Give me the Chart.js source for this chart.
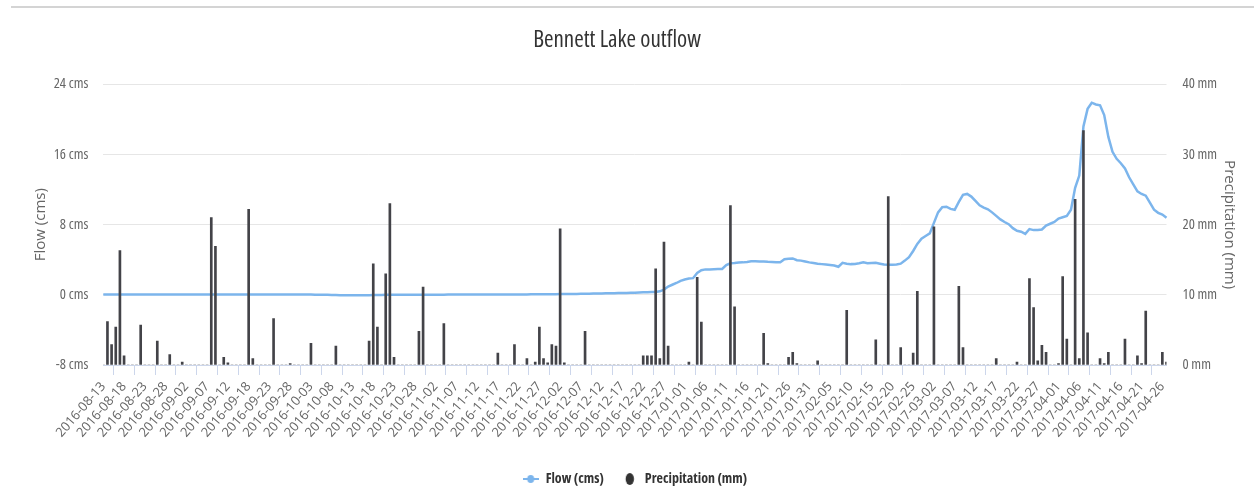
<!DOCTYPE html>
<html>
<head>
<meta charset="utf-8">
<title>Bennett Lake outflow</title>
<script src="https://cdn.jsdelivr.net/npm/chart.js@4.4.1/dist/chart.umd.min.js"></script>
<style>
  html, body { margin: 0; padding: 0; background: #fff; }
  #wrap { position: relative; width: 1254px; height: 491px; overflow: hidden; }
  #rule { position: absolute; left: 11px; right: 0; top: 6px; border-top: 2px solid #d4d4d4; }
  canvas { display: block; }
</style>
</head>
<body>
<div id="wrap">
  <canvas id="chart" width="1254" height="491"></canvas>
  <div id="rule"></div>
</div>
<script>
// ====== DATA ======
const startDate = '2016-08-13';
const endDate = '2017-04-27';
const missingDates = ['2016-09-15'];   // no record for that day

// daily outflow (cms), one value per day from startDate
const flowCms = [
  0.05,0.05,0.05,0.05,0.05,0.05,0.05,0.05,0.05,0.05,
  0.05,0.05,0.05,0.05,0.05,0.05,0.05,0.05,0.05,0.05,
  0.05,0.05,0.05,0.05,0.05,0.05,0.05,0.05,0.05,0.05,
  0.05,0.05,0.05,0.05,0.05,0.05,0.05,0.05,0.05,0.05,
  0.05,0.05,0.05,0.04,0.04,0.04,0.04,0.04,0.03,0.03,
  0.03,0.02,0.02,0.01,0.00,-0.02,-0.03,-0.04,-0.05,-0.05,
  -0.06,-0.06,-0.05,-0.05,-0.04,-0.03,-0.02,-0.01,0.00,0.01,
  0.02,0.02,0.02,0.02,0.02,0.02,0.02,0.02,0.02,0.02,
  0.02,0.02,0.02,0.03,0.03,0.03,0.03,0.03,0.03,0.03,
  0.03,0.03,0.04,0.04,0.04,0.04,0.04,0.04,0.05,0.05,
  0.05,0.05,0.05,0.06,0.06,0.06,0.06,0.07,0.07,0.07,
  0.08,0.08,0.09,0.10,0.10,0.11,0.12,0.13,0.14,0.15,
  0.16,0.17,0.18,0.19,0.20,0.21,0.22,0.23,0.25,0.27,
  0.28,0.30,0.31,0.33,0.40,0.60,0.95,1.15,1.35,1.60,
  1.75,1.85,1.90,2.50,2.80,2.90,2.90,2.92,2.93,2.95,
  3.40,3.60,3.62,3.68,3.70,3.75,3.82,3.84,3.80,3.80,
  3.76,3.75,3.72,3.72,4.05,4.10,4.15,3.95,3.90,3.80,
  3.70,3.62,3.55,3.50,3.45,3.40,3.35,3.20,3.65,3.55,
  3.50,3.52,3.60,3.70,3.60,3.62,3.65,3.55,3.45,3.42,
  3.42,3.45,3.55,3.90,4.30,5.00,5.80,6.40,6.70,7.00,
  8.20,9.40,10.00,10.05,9.80,9.70,10.60,11.40,11.50,11.20,
  10.70,10.20,9.95,9.75,9.40,9.00,8.60,8.30,8.05,7.60,
  7.30,7.20,6.95,7.50,7.38,7.40,7.45,7.90,8.10,8.30,
  8.70,8.85,9.00,9.70,12.20,13.60,19.20,21.20,21.90,21.70,
  21.60,20.50,18.00,16.30,15.50,15.00,14.40,13.40,12.60,11.80,
  11.50,11.30,10.50,9.70,9.35,9.15,8.80
];

// days with precipitation (all other days 0 mm)
const rainDates = [
  '2016-08-14','2016-08-15','2016-08-16','2016-08-17','2016-08-18','2016-08-22','2016-08-26','2016-08-29',
  '2016-09-01','2016-09-08','2016-09-09','2016-09-11','2016-09-12','2016-09-18','2016-09-19','2016-09-24',
  '2016-09-28','2016-10-03','2016-10-09','2016-10-17','2016-10-18','2016-10-19','2016-10-21','2016-10-22',
  '2016-10-23','2016-10-29','2016-10-30','2016-11-04','2016-11-17','2016-11-21','2016-11-24','2016-11-26',
  '2016-11-27','2016-11-28','2016-11-29','2016-11-30','2016-12-01','2016-12-02','2016-12-03','2016-12-08',
  '2016-12-22','2016-12-23','2016-12-24','2016-12-25','2016-12-26','2016-12-27','2016-12-28','2017-01-02',
  '2017-01-04','2017-01-05','2017-01-12','2017-01-13','2017-01-20','2017-01-21','2017-01-26','2017-01-27',
  '2017-01-28','2017-02-02','2017-02-09','2017-02-16','2017-02-19','2017-02-22','2017-02-25','2017-02-26',
  '2017-03-02','2017-03-08','2017-03-09','2017-03-17','2017-03-22','2017-03-25','2017-03-26','2017-03-27',
  '2017-03-28','2017-03-29','2017-04-01','2017-04-02','2017-04-03','2017-04-05','2017-04-06','2017-04-07',
  '2017-04-08','2017-04-11','2017-04-12','2017-04-13','2017-04-17','2017-04-20','2017-04-21','2017-04-22',
  '2017-04-26','2017-04-27'
];
const rainMm = [
  6.2, 2.9, 5.4, 16.3, 1.3, 5.7, 3.4, 1.5,
  0.4, 21.0, 16.9, 1.1, 0.3, 22.2, 0.9, 6.6,
  0.2, 3.1, 2.7, 3.4, 14.4, 5.4, 13.0, 23.0,
  1.1, 4.8, 11.1, 5.9, 1.7, 2.9, 0.9, 0.4,
  5.4, 0.9, 0.3, 2.9, 2.7, 19.4, 0.3, 4.8,
  1.3, 1.3, 1.3, 13.7, 0.9, 17.5, 2.7, 0.4,
  12.5, 6.1, 22.7, 8.3, 4.5, 0.2, 1.1, 1.8,
  0.2, 0.6, 7.8, 3.6, 24.0, 2.5, 1.7, 10.5,
  19.7, 11.2, 2.5, 0.9, 0.4, 12.3, 8.2, 0.6,
  2.8, 1.8, 0.2, 12.6, 3.7, 23.6, 0.9, 33.4,
  4.6, 0.9, 0.2, 1.8, 3.7, 1.3, 0.2, 7.7,
  1.8, 0.4
];

const flowTicks = [-8, 0, 8, 16, 24];
const rainTicks = [0, 10, 20, 30, 40];
const labelEvery = 5;

// ====== HELPERS ======
const SANS = '"Open Sans", "Liberation Sans", sans-serif';
const FLOW_COLOR = '#7cb5ec';
const RAIN_COLOR = '#434348';

function buildDays(from, to, skip) {
  const out = [];
  const d = new Date(from + 'T00:00:00Z');
  const end = new Date(to + 'T00:00:00Z');
  while (d <= end) {
    const s = d.toISOString().slice(0, 10);
    if (!skip.includes(s)) out.push(s);
    d.setUTCDate(d.getUTCDate() + 1);
  }
  return out;
}

function legendIcon(kind) {
  const c = document.createElement('canvas');
  c.width = 16; c.height = 14;
  const g = c.getContext('2d');
  if (kind === 'line') {
    g.strokeStyle = FLOW_COLOR; g.lineWidth = 2;
    g.beginPath(); g.moveTo(0, 7); g.lineTo(16, 7); g.stroke();
    g.fillStyle = FLOW_COLOR;
    g.beginPath(); g.ellipse(8, 7, 3.5, 4, 0, 0, Math.PI * 2); g.fill();
  } else {
    g.fillStyle = '#333';
    g.beginPath(); g.ellipse(8, 7, 4.2, 6, 0, 0, Math.PI * 2); g.fill();
  }
  return c;
}

const days = buildDays(startDate, endDate, missingDates);
const precip = days.map(d => {
  const i = rainDates.indexOf(d);
  return i < 0 ? 0 : rainMm[i];
});
const icons = [legendIcon('line'), legendIcon('dot')];

// ====== CHART ======
const ctx = document.getElementById('chart').getContext('2d');
new Chart(ctx, {
  type: 'bar',
  data: {
    labels: days,
    datasets: [{
      type: 'line',
      label: 'Flow (cms)',
      data: flowCms,
      yAxisID: 'yFlow',
      borderColor: FLOW_COLOR,
      backgroundColor: FLOW_COLOR,
      borderWidth: 2.5,
      pointRadius: 0,
      tension: 0,
      order: 1
    }, {
      type: 'bar',
      label: 'Precipitation (mm)',
      data: precip,
      yAxisID: 'yRain',
      backgroundColor: RAIN_COLOR,
      barThickness: 2,
      order: 0
    }]
  },
  options: {
    responsive: false,
    animation: false,
    // right padding pulls the centred title left, the right axis box absorbs it
    layout: { padding: { left: 0, right: 20, top: 0, bottom: -5 } },
    plugins: {
      title: {
        display: true,
        text: 'Bennett Lake outflow',
        color: '#333',
        font: { family: SANS, size: 23, weight: 'condensed', lineHeight: 1.2 },
        padding: { top: 26.9, bottom: 29.8 }
      },
      legend: {
        position: 'bottom',
        fullSize: false,
        labels: {
          usePointStyle: true,
          pointStyleWidth: 16,
          padding: 18,
          color: '#333',
          font: { family: SANS, size: 14, weight: 'bold condensed' },
          sort: (a, b) => a.datasetIndex - b.datasetIndex,
          generateLabels(chart) {
            const items = Chart.defaults.plugins.legend.labels.generateLabels(chart);
            items.forEach(it => { it.pointStyle = icons[it.datasetIndex]; });
            return items;
          }
        }
      },
      tooltip: { enabled: false }
    },
    scales: {
      x: {
        offset: false,
        grid: { drawOnChartArea: false, color: '#ccd6eb', tickLength: 10 },
        border: { color: '#ccd6eb' },
        ticks: {
          autoSkip: false,
          minRotation: 49,
          maxRotation: 49,
          padding: 4,
          color: '#666',
          font: { family: SANS, size: 13 },
          callback(v, i) { return i % labelEvery === 0 ? this.getLabelForValue(v) : null; }
        },
        afterFit: s => { s.height = 89; }
      },
      yFlow: {
        position: 'left',
        min: flowTicks[0],
        max: flowTicks[flowTicks.length - 1],
        afterBuildTicks: s => { s.ticks = flowTicks.map(v => ({ value: v })); },
        grid: { color: '#e6e6e6', drawTicks: false },
        border: { display: false },
        ticks: {
          padding: 15, color: '#666',
          font: { family: SANS, size: 14.5, weight: 'condensed' },
          callback: v => v + ' cms'
        },
        title: {
          display: true, text: 'Flow (cms)', color: '#666',
          font: { family: SANS, size: 15 },
          padding: { top: 32, bottom: 0 }
        },
        afterFit: s => { s.width = 103.3; }
      },
      yRain: {
        position: 'right',
        min: rainTicks[0],
        max: rainTicks[rainTicks.length - 1],
        afterBuildTicks: s => { s.ticks = rainTicks.map(v => ({ value: v })); },
        grid: { drawOnChartArea: false, drawTicks: false },
        border: { display: false },
        ticks: {
          padding: 16, color: '#666',
          font: { family: SANS, size: 14.5, weight: 'condensed' },
          callback: v => v + ' mm'
        },
        title: {
          display: true, text: 'Precipitation (mm)', color: '#666',
          font: { family: SANS, size: 15 },
          padding: { top: -4, bottom: 0 }
        },
        afterFit: s => { s.width = 67.5; }
      }
    }
  }
});
</script>
</body>
</html>
